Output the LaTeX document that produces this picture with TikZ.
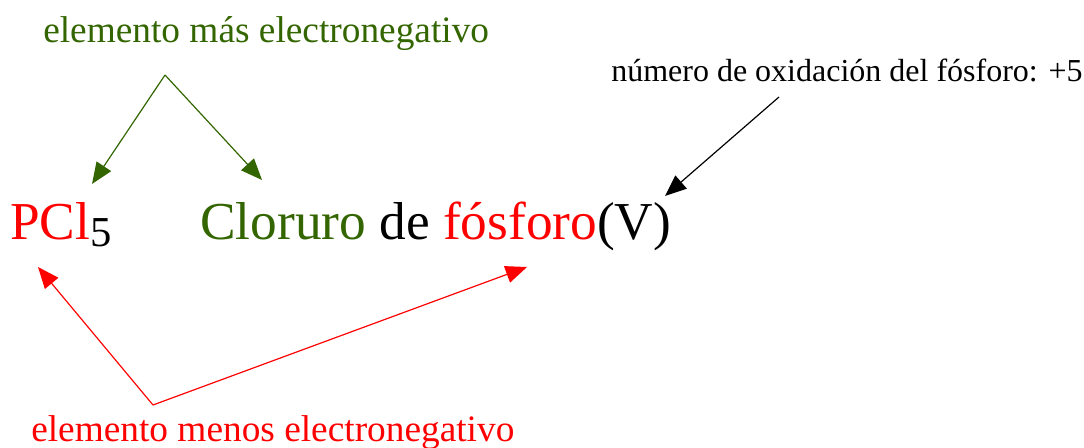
\documentclass[tikz,border=0pt]{standalone}
\usepackage{fontspec}
\setmainfont{Liberation Serif}
\usetikzlibrary{arrows.meta}
\definecolor{verde}{RGB}{51,102,0}
\begin{document}
\begin{tikzpicture}[x=.75pt,y=-.75pt,
  every node/.style={inner sep=0pt,anchor=base west},
  big/.style={font=\fontsize{40}{48}\selectfont},
  lbl/.style={font=\fontsize{28}{32}\selectfont},
  ptr/.style={-{Triangle[length=16pt,width=13pt]},line width=.9pt}]
\useasboundingbox (0,0) rectangle (1084,448);
%
\node[big] (formula) at (10,240) {\textcolor{red}{PCl}\raisebox{-5pt}{\fontsize{32}{36}\selectfont 5}};
\node[big] (nombre) at (200,240) {\textcolor{verde}{Cloruro} de \textcolor{red}{fósforo}(V)};
\node[lbl,text=verde] (masen) at (43,43) {elemento más electronegativo};
\node[lbl,text=red] (menosen) at (31,441) {elemento menos electronegativo};
\node[font=\fontsize{24}{28}\selectfont] (oxnum) at (611,82) {número de oxidación del fósforo: +5};
%
\coordinate (vg) at (165,75);
\coordinate (vr) at (153,405);
\coordinate (ox) at (779,97);
\coordinate (tP) at (92,184);
\coordinate (tC) at (262,180);
\coordinate (tPr) at (38,267);
\coordinate (tF) at (527,267);
\coordinate (tV) at (665,196);
%
\draw[ptr,verde] (vg) -- (tP);
\draw[ptr,verde] (vg) -- (tC);
\draw[ptr,red] (vr) -- (tPr);
\draw[ptr,red] (vr) -- (tF);
\draw[ptr] (ox) -- (tV);
\end{tikzpicture}
\end{document}
